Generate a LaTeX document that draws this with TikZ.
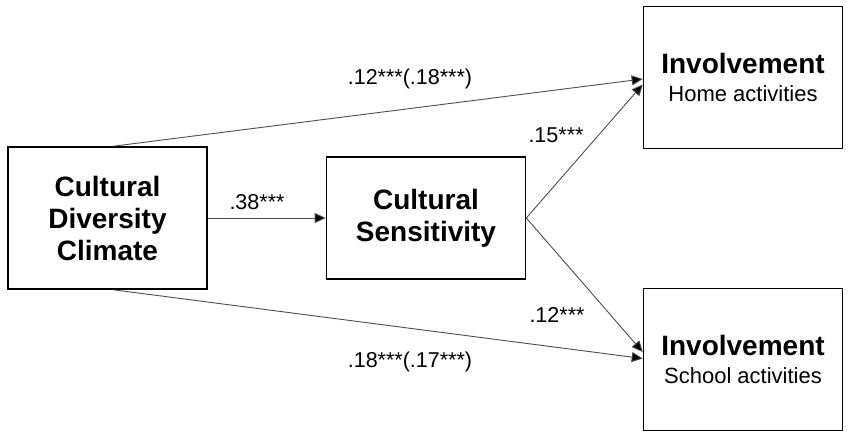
\documentclass[tikz,border=0pt]{standalone}
\usepackage{fontspec}
\setmainfont{Liberation Sans}
\usetikzlibrary{arrows.meta}
\tikzset{
  box/.style={draw,line width=1.6pt,minimum width=199pt,minimum height=142pt,align=center,inner sep=0pt},
  bigbox/.style={box,font=\fontsize{28}{32}\selectfont\bfseries},
  effect/.style={draw=black!70,line width=0.9pt,-{Triangle[length=11pt,width=10pt,fill=black]}},
  coef/.style={anchor=base,inner sep=0pt,font=\fontsize{21.5}{25}\selectfont}
}

\begin{document}
\begin{tikzpicture}[x=1pt,y=-1pt]
  \useasboundingbox (0,0) rectangle (851,438);
  % Kaesten
  \node[bigbox] (climate) at (107.5,218) {Cultural\\Diversity\\Climate};
  \node[bigbox,minimum height=122pt] (sens) at (426,218) {Cultural\\Sensitivity};
  \node[box,font=\fontsize{22}{28}\selectfont] (home) at (743,77.5)
    {{\fontsize{28}{28}\selectfont\bfseries Involvement}\\Home activities};
  \node[box,font=\fontsize{22}{28}\selectfont] (school) at (743,359.5)
    {{\fontsize{28}{28}\selectfont\bfseries Involvement}\\School activities};
  % Pfade
  \draw[effect] (climate) -- (sens);
  \draw[effect] ([xshift=6pt]climate.north) -- ([yshift=-1.5pt]home.west);
  \draw[effect] ([xshift=6pt]climate.south) -- ([yshift=1pt]school.west);
  \draw[effect] (sens.east) -- ([yshift=-7pt]home.west);
  \draw[effect] (sens.east) -- ([yshift=7.5pt]school.west);
  % Koeffizienten
  \node[coef] (c1) at (257,210) {.38***};
  \node[coef] (c2) at (410,85) {.12***(.18***)};
  \node[coef] (c3) at (410,367) {.18***(.17***)};
  \node[coef] (c4) at (556,143) {.15***};
  \node[coef] (c5) at (557,322) {.12***};
\end{tikzpicture}
\end{document}
